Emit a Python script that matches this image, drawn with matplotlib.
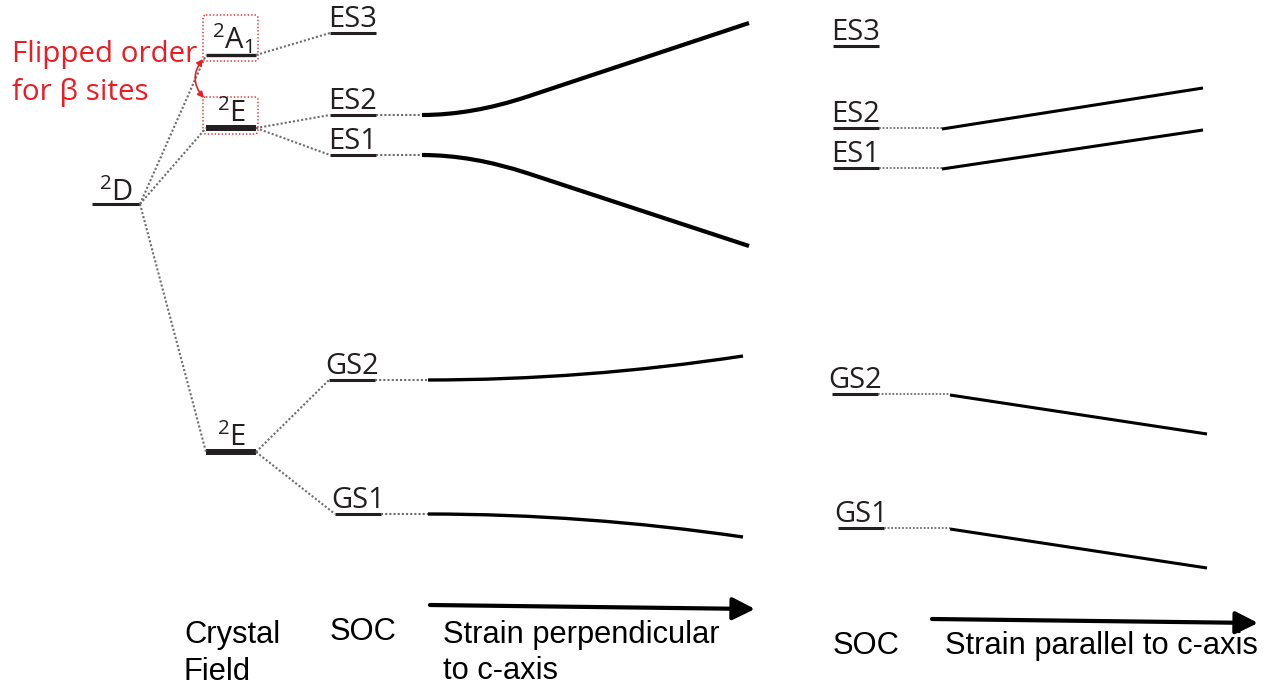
import matplotlib
matplotlib.use("Agg")
import matplotlib.pyplot as plt
from matplotlib.path import Path
from matplotlib.patches import PathPatch, FancyBboxPatch

plt.rcParams['mathtext.fontset'] = 'custom'
plt.rcParams['mathtext.rm'] = 'Open Sans'
plt.rcParams['mathtext.it'] = 'Open Sans:italic'

# energy levels, in drawing units (y grows downward)
free_ion_label = r'$\mathregular{^2D}$'
free_ion_y = 204

cf_labels = [r'$\mathregular{^2A_1}$', r'$\mathregular{^2E}$', r'$\mathregular{^2E}$']
cf_y = [55, 128, 452]

soc_labels = ['ES3', 'ES2', 'ES1', 'GS2', 'GS1']
soc_y = [33, 115, 155, 380, 514]
soc_parent = [0, 1, 1, 2, 2]

# strain perpendicular to c-axis: end energies (ES3 not followed)
perp_end_y = [None, 23, 246, 356, 537]

# second panel: SOC levels and strain parallel to c-axis
par_soc_y = [46, 128, 168, 394, 528]
par_end_y = [None, 88, 130, 434, 568]

ink = '#231f20'
dot_col = '#6d6e71'
red = '#ed1c24'
dotted = (0, (1.0, 1.0))

fig = plt.figure(figsize=(12.7, 6.89), dpi=100)
ax = fig.add_axes([0, 0, 1, 1])
ax.set_xlim(0, 1270)
ax.set_ylim(689, 0)
ax.axis('off')

label_font = dict(family='Open Sans', fontsize=21, color=ink)
axis_font = dict(family='Liberation Sans', fontsize=22.2, color='black')

# free ion
fi_x = (92, 140)
ax.plot(fi_x, [free_ion_y] * 2, color=ink, lw=2.2, solid_capstyle='butt')
ax.text(sum(fi_x) / 2, free_ion_y - 3, free_ion_label, ha='center', va='baseline', **label_font)

# crystal field levels
cf_x = (206, 256)
cf_lw = [2.4, 4.3, 4.3]
for y, lab, lw in zip(cf_y, cf_labels, cf_lw):
    ax.plot(cf_x, [y, y], color=ink, lw=lw, solid_capstyle='butt')
    ax.text(sum(cf_x) / 2 + 1, y - 6, lab, ha='center', va='baseline', **label_font)
    ax.plot([fi_x[1], cf_x[0]], [free_ion_y, y], color=dot_col, lw=1.5, ls=dotted)

# red boxes marking the flipped pair
for (y0, y1) in [(15, 61), (97, 134)]:
    ax.add_patch(FancyBboxPatch((203, y0), 55, y1 - y0, boxstyle='round,pad=0,rounding_size=3',
                                fill=False, ec=red, lw=1.0, ls=(0, (1, 1.5))))
ax.annotate('', xy=(204, 98), xytext=(203, 59),
            arrowprops=dict(arrowstyle='<|-|>', connectionstyle='arc3,rad=0.4', color=red,
                            lw=1.2, mutation_scale=9, shrinkA=0, shrinkB=0))
ax.text(12, 62, 'Flipped order', ha='left', va='baseline', family='Open Sans', fontsize=21.3, color=red)
ax.text(12, 100, 'for β sites', ha='left', va='baseline', family='Open Sans', fontsize=21.3, color=red)

# spin-orbit levels
soc_x0 = [330, 330, 330, 329, 335]
perp_x0 = [None, 422, 422, 428, 428]
perp_x1 = [None, 749, 749, 743, 743]
for i, (y, lab) in enumerate(zip(soc_y, soc_labels)):
    x0 = soc_x0[i]
    x1 = x0 + 46
    ax.plot([x0, x1], [y, y], color=ink, lw=2.2, solid_capstyle='butt')
    ax.text((x0 + x1) / 2, y - 6, lab, ha='center', va='baseline', **label_font)
    ax.plot([cf_x[1], x0], [cf_y[soc_parent[i]], y], color=dot_col, lw=1.5, ls=dotted)
    if perp_end_y[i] is None:
        continue
    xs, xe, ye = perp_x0[i], perp_x1[i], perp_end_y[i]
    ax.plot([x1, xs], [y, y], color=dot_col, lw=1.5, ls=dotted)
    if lab.startswith('ES'):
        # flat start bending into a straight run
        cx, cy = xs + 50, y
        jx, jy = cx + 0.2 * (xe - cx), cy + 0.2 * (ye - cy)
        path = Path([(xs, y), (cx, cy), (jx, jy), (xe, ye)],
                    [Path.MOVETO, Path.CURVE3, Path.CURVE3, Path.LINETO])
        lw = 3.0
    else:
        path = Path([(xs, y), (585, y), (xe, ye)], [Path.MOVETO, Path.CURVE3, Path.CURVE3])
        lw = 2.4
    ax.add_patch(PathPatch(path, fill=False, ec='black', lw=lw, capstyle='butt', joinstyle='round'))

# second panel
par_x0 = [833, 833, 833, 832, 838]
par_s0 = [None, 942, 942, 950, 950]
par_s1 = [None, 1203, 1203, 1207, 1207]
for i, (y, lab) in enumerate(zip(par_soc_y, soc_labels)):
    x0 = par_x0[i]
    x1 = x0 + 46
    ax.plot([x0, x1], [y, y], color=ink, lw=2.2, solid_capstyle='butt')
    ax.text((x0 + x1) / 2, y - 6, lab, ha='center', va='baseline', **label_font)
    if par_end_y[i] is None:
        continue
    ax.plot([x1, par_s0[i]], [y, y], color=dot_col, lw=1.3, ls=dotted)
    ax.plot([par_s0[i], par_s1[i]], [y + 1, par_end_y[i]], color='black', lw=2.2,
            solid_capstyle='butt')

# strain arrows
arrow = dict(arrowstyle='-|>', color='black', lw=3, mutation_scale=34, shrinkA=0, shrinkB=0)
ax.annotate('', xy=(755, 609), xytext=(430, 605), arrowprops=arrow)
ax.annotate('', xy=(1258, 623), xytext=(932, 619), arrowprops=arrow)

# column captions
ax.text(184, 643, 'Crystal', ha='left', va='baseline', **axis_font)
ax.text(184, 680, 'Field', ha='left', va='baseline', **axis_font)
ax.text(330, 640, 'SOC', ha='left', va='baseline', **axis_font)
ax.text(443, 643, 'Strain perpendicular', ha='left', va='baseline', **axis_font)
ax.text(443, 679, 'to c-axis', ha='left', va='baseline', **axis_font)
ax.text(833, 654, 'SOC', ha='left', va='baseline', **axis_font)
ax.text(945, 654, 'Strain parallel to c-axis', ha='left', va='baseline', **axis_font)

fig.savefig('out.png', dpi=100, facecolor='white')
